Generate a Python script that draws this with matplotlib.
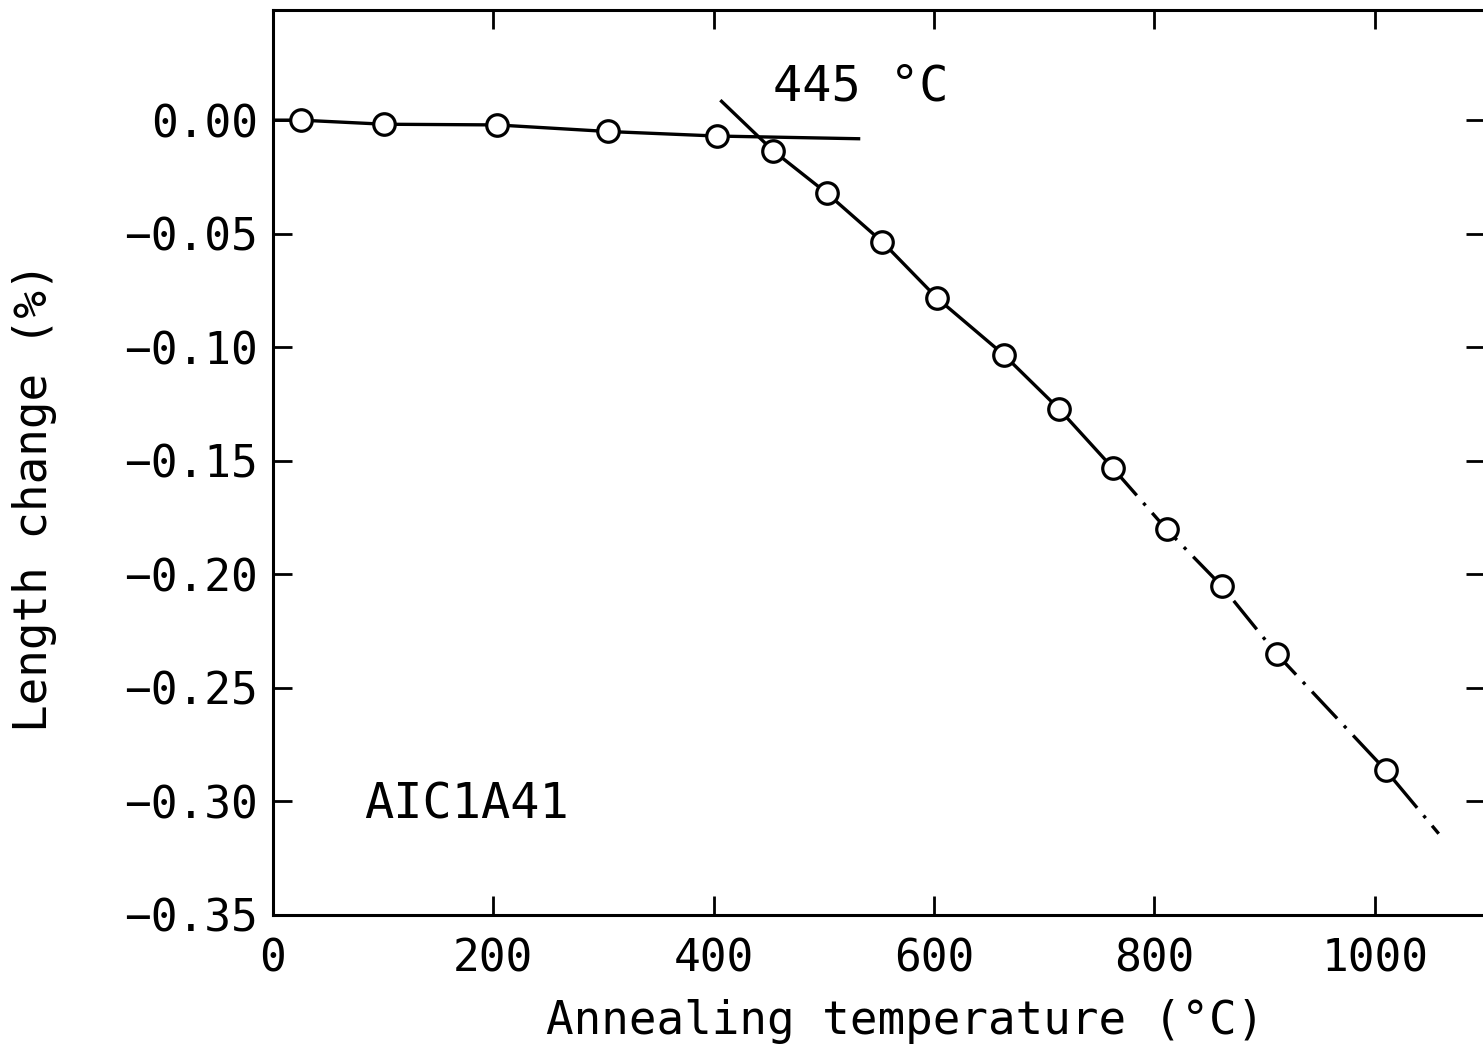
import numpy as np
import matplotlib
matplotlib.use("Agg")
import matplotlib.pyplot as plt
from matplotlib.ticker import FuncFormatter

# measured points (annealing temperature in C, length change in %)
temp = [25, 101, 203, 304, 403, 454, 503, 553, 603, 663, 713, 762, 811, 861, 911, 1010]
dl = [0.0, -0.0018, -0.0021, -0.0050, -0.0070, -0.0135, -0.0323, -0.0536, -0.0785,
      -0.1032, -0.1270, -0.1531, -0.1802, -0.2051, -0.2351, -0.2863]

# low temperature branch (solid, drawn through the first points)
flat_x = [0, 25, 101, 203, 304, 403, 533]
flat_y = [0.0, 0.0, -0.0018, -0.0021, -0.0050, -0.0070, -0.0082]
# shrinkage branch, solid part
steep_x = [406, 454, 503, 553, 603, 663, 713, 762]
steep_y = [0.0088, -0.0135, -0.0323, -0.0536, -0.0785, -0.1032, -0.1270, -0.1531]
# shrinkage branch, extrapolated part (dash-dot)
ext_x = [762, 811, 861, 911, 1010, 1058]
ext_y = [-0.1531, -0.1802, -0.2051, -0.2351, -0.2863, -0.3142]

x_ticks = [0, 200, 400, 600, 800, 1000]
y_ticks = [0.0, -0.05, -0.10, -0.15, -0.20, -0.25, -0.30, -0.35]

mono = 'DejaVu Sans Mono'
W, H = 1483, 1051

fig = plt.figure(figsize=(W / 100, H / 100), dpi=100)
# axes placed in pixel terms; the right spine sits just off the picture
ax = fig.add_axes([273 / W, (H - 915) / H, (1485 - 273) / W, (915 - 10) / H])

lw = 2.4
ax.plot(flat_x, flat_y, color='black', lw=lw, solid_capstyle='butt')
ax.plot(steep_x, steep_y, color='black', lw=lw, solid_capstyle='butt')
ax.plot(ext_x, ext_y, color='black', lw=lw, linestyle=(0, (11, 3, 1, 3)),
        dash_capstyle='butt')
ax.plot(temp, dl, linestyle='none', marker='o', markersize=15.5,
        markerfacecolor='white', markeredgecolor='black', markeredgewidth=2.3,
        zorder=5)

ax.set_xlim(0, 1100)
ax.set_ylim(-0.35, 0.0485)
ax.set_xticks(x_ticks)
ax.set_yticks(y_ticks)
ax.xaxis.set_major_formatter(FuncFormatter(lambda v, p: f"{v:.0f}"))
ax.yaxis.set_major_formatter(FuncFormatter(lambda v, p: f"{v:.2f}".replace('-', '\u2212')))

ax.tick_params(direction='in', length=14, width=2, top=True, right=True,
               labelsize=32, colors='black')
ax.tick_params(axis='x', pad=16)
ax.tick_params(axis='y', pad=11)
for lab in ax.get_xticklabels() + ax.get_yticklabels():
    lab.set_fontfamily(mono)
for s in ax.spines.values():
    s.set_linewidth(2.2)

# text on the plot
ax.text(454, 0.0088, '445 °C', fontsize=35, fontfamily=mono, ha='left', va='baseline')
ax.text(83, -0.3075, 'AIC1A41', fontsize=35, fontfamily=mono, ha='left', va='baseline')

# axis labels placed by pixel position
fig.text(905 / W, 1 - 1022 / H, 'Annealing temperature (°C)', fontsize=33,
         fontfamily=mono, ha='center', va='center')
fig.text(35 / W, 1 - 497 / H, 'Length change (%)', fontsize=33, fontfamily=mono,
         rotation=90, ha='center', va='center')

fig.savefig('out.png', dpi=100)
